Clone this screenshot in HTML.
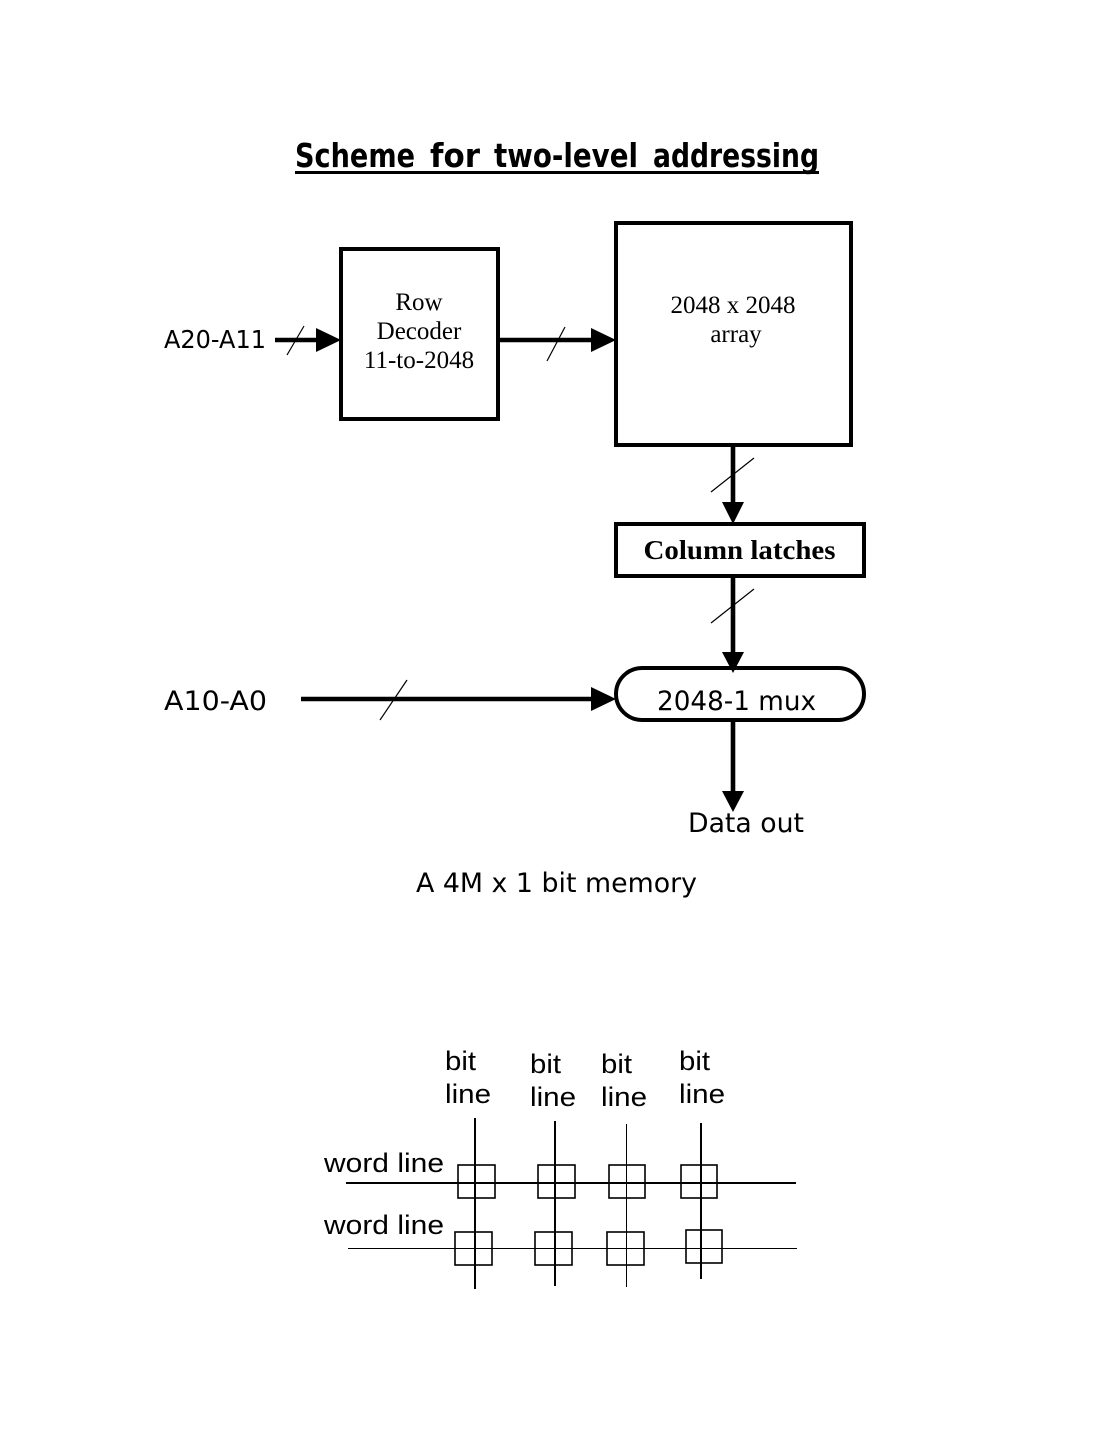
<!DOCTYPE html>
<html>
<head>
<meta charset="utf-8">
<style>
html,body{margin:0;padding:0;background:#fff;width:1113px;height:1440px;overflow:hidden}
svg{display:block}
.c{font-family:"DejaVu Sans",sans-serif;font-size:27px;fill:#000}
.t{font-family:"DejaVu Sans",sans-serif;font-size:33px;font-weight:bold;fill:#000}
.s{font-family:"Liberation Serif",serif;font-size:25px;fill:#000}
.a{font-family:"Liberation Sans",sans-serif;font-size:27px;fill:#000}
</style>
</head>
<body>
<svg width="1113" height="1440" viewBox="0 0 1113 1440" xmlns="http://www.w3.org/2000/svg">
<rect width="1113" height="1440" fill="#fff"/>

<text x="295" y="167" class="t" textLength="120" lengthAdjust="spacingAndGlyphs">Scheme</text>
<text x="430" y="167" class="t" textLength="50" lengthAdjust="spacingAndGlyphs">for</text>
<text x="494" y="167" class="t" textLength="144" lengthAdjust="spacingAndGlyphs">two-level</text>
<text x="653" y="167" class="t" textLength="166" lengthAdjust="spacingAndGlyphs">addressing</text>
<rect x="295" y="171" width="524" height="3" fill="#000"/>

<g fill="none" stroke="#000" stroke-width="4">
<rect x="341" y="249" width="157" height="170"/>
<rect x="616" y="223" width="235" height="222"/>
<rect x="616" y="524" width="248" height="52"/>
<rect x="616" y="668" width="248" height="52" rx="26" ry="26"/>
</g>

<g stroke="#000" stroke-width="4.6" fill="none">
<line x1="275" y1="340" x2="320" y2="340"/>
<line x1="498" y1="340" x2="595" y2="340"/>
<line x1="301" y1="699" x2="595" y2="699"/>
<line x1="733" y1="445" x2="733" y2="504"/>
<line x1="733" y1="576" x2="733" y2="654"/>
<line x1="733" y1="720" x2="733" y2="793"/>
</g>
<g fill="#000">
<polygon points="316,328 341,340 316,352"/>
<polygon points="591,328 616,340 591,352"/>
<polygon points="591,687 616,699 591,711"/>
<polygon points="722,502 744,502 733,524"/>
<polygon points="722,652 744,652 733,673"/>
<polygon points="722,791 744,791 733,812"/>
</g>
<g stroke="#000" stroke-width="1.2" fill="none">
<line x1="287" y1="355" x2="304" y2="326"/>
<line x1="547" y1="361" x2="565" y2="327"/>
<line x1="380" y1="720" x2="407" y2="680"/>
<line x1="711" y1="492" x2="754" y2="458"/>
<line x1="711" y1="623" x2="754" y2="589"/>
</g>

<text x="419" y="310" class="s" text-anchor="middle">Row</text>
<text x="419" y="339" class="s" text-anchor="middle">Decoder</text>
<text x="419" y="368" class="s" text-anchor="middle">11-to-2048</text>
<text x="733" y="313" class="s" text-anchor="middle">2048 x 2048</text>
<text x="736" y="342" class="s" text-anchor="middle">array</text>
<text x="739.5" y="559" class="s" text-anchor="middle" style="font-size:27px;font-weight:bold" textLength="192" lengthAdjust="spacingAndGlyphs">Column latches</text>

<text x="164" y="348" class="c" style="font-size:25px" textLength="102" lengthAdjust="spacingAndGlyphs">A20-A11</text>
<text x="164" y="710" class="c" textLength="103" lengthAdjust="spacingAndGlyphs">A10-A0</text>
<text x="657" y="710" class="c" textLength="159" lengthAdjust="spacingAndGlyphs">2048-1 mux</text>
<text x="688" y="832" class="c" textLength="116" lengthAdjust="spacingAndGlyphs">Data out</text>
<text x="416" y="892" class="c" textLength="281" lengthAdjust="spacingAndGlyphs">A 4M x 1 bit memory</text>

<text x="445" y="1070" class="a" textLength="31" lengthAdjust="spacingAndGlyphs">bit</text>
<text x="445" y="1103" class="a" textLength="46" lengthAdjust="spacingAndGlyphs">line</text>
<text x="530" y="1073" class="a" textLength="31" lengthAdjust="spacingAndGlyphs">bit</text>
<text x="530" y="1106" class="a" textLength="46" lengthAdjust="spacingAndGlyphs">line</text>
<text x="601" y="1073" class="a" textLength="31" lengthAdjust="spacingAndGlyphs">bit</text>
<text x="601" y="1106" class="a" textLength="46" lengthAdjust="spacingAndGlyphs">line</text>
<text x="679" y="1070" class="a" textLength="31" lengthAdjust="spacingAndGlyphs">bit</text>
<text x="679" y="1103" class="a" textLength="46" lengthAdjust="spacingAndGlyphs">line</text>
<text x="324" y="1172" class="a" textLength="120" lengthAdjust="spacingAndGlyphs">word line</text>
<text x="324" y="1234" class="a" textLength="120" lengthAdjust="spacingAndGlyphs">word line</text>

<g stroke="#000" fill="none">
<line x1="346" y1="1183" x2="796" y2="1183" stroke-width="2"/>
<line x1="348" y1="1248.5" x2="797" y2="1248.5" stroke-width="1"/>
<line x1="475" y1="1118" x2="475" y2="1289" stroke-width="2"/>
<line x1="555" y1="1121" x2="555" y2="1286" stroke-width="2"/>
<line x1="626.5" y1="1124" x2="626.5" y2="1287" stroke-width="1"/>
<line x1="701" y1="1123" x2="701" y2="1279" stroke-width="2"/>
<g stroke-width="1.6">
<rect x="458" y="1165" width="37" height="33"/>
<rect x="538" y="1165" width="37" height="33"/>
<rect x="609" y="1165" width="36" height="33"/>
<rect x="681" y="1165" width="36" height="33"/>
<rect x="455" y="1232" width="37" height="33"/>
<rect x="535" y="1232" width="37" height="33"/>
<rect x="607" y="1232" width="37" height="33"/>
<rect x="686" y="1230" width="36" height="33"/>
</g>
</g>
</svg>
</body>
</html>
